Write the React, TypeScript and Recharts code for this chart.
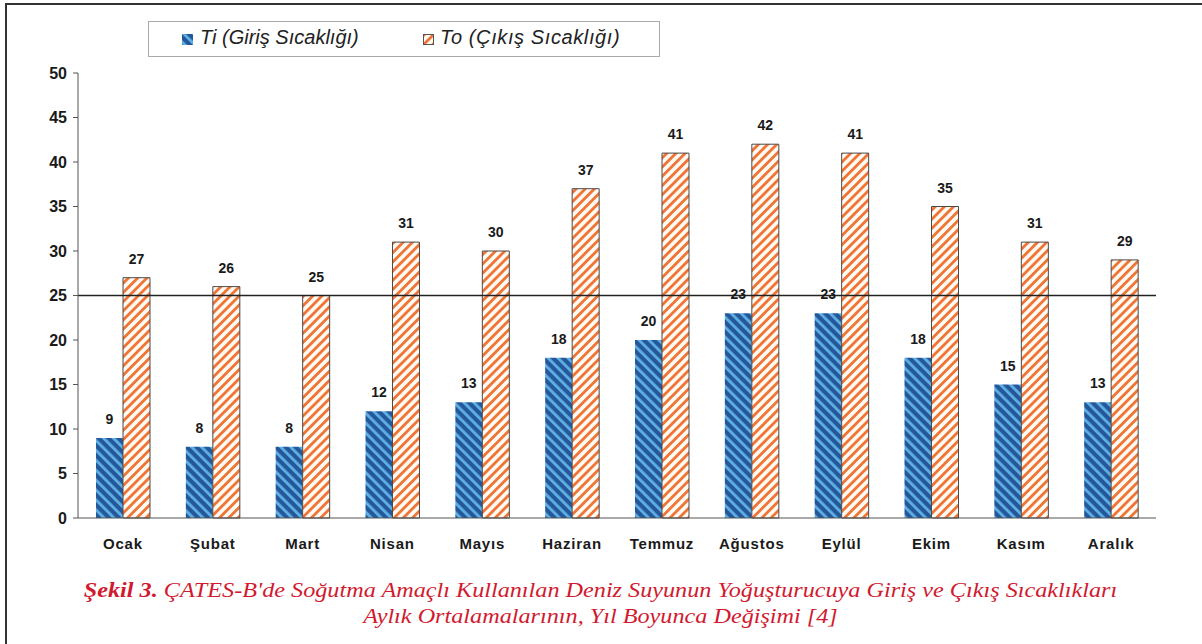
import React from 'react';
import {
    BarChart,
    Bar,
    XAxis,
    YAxis,
    ReferenceLine,
    LabelList
} from "recharts"

const months = ["Ocak", "Şubat", "Mart", "Nisan", "Mayıs", "Haziran", "Temmuz", "Ağustos", "Eylül", "Ekim", "Kasım", "Aralık"];
const tiValues = [9, 8, 8, 12, 13, 18, 20, 23, 23, 18, 15, 13];
const toValues = [27, 26, 25, 31, 30, 37, 41, 42, 41, 35, 31, 29];
const yTicks = [0, 5, 10, 15, 20, 25, 30, 35, 40, 45, 50];
const tiName = "Ti (Giriş Sıcaklığı)";
const toName = "To (Çıkış Sıcaklığı)";

const data = months.map((month, i) => ({ month, ti: tiValues[i], to: toValues[i] }));

const FONT = "'Liberation Sans', Arial, sans-serif";
const labelStyle = { fontFamily: FONT, fontWeight: 700, fontSize: 14, fill: "#1a1a1a" };

const Patterns: React.FC = () => (
    <svg width={0} height={0} style={{ position: 'absolute' }}>
        <defs>
            <pattern id="blueHatch" patternUnits="userSpaceOnUse" width={7} height={7} patternTransform="rotate(-45)">
                <rect width={7} height={7} fill="#24589a" />
                <rect width={2.8} height={7} fill="#5fb0e4" />
            </pattern>
            <pattern id="orangeHatch" patternUnits="userSpaceOnUse" width={6.5} height={6.5} patternTransform="rotate(45)">
                <rect width={6.5} height={6.5} fill="#fffaf2" />
                <rect width={2.8} height={6.5} fill="#ef7436" />
            </pattern>
        </defs>
    </svg>
);

const LegendBox: React.FC = () => (
    <div style={{
        position: 'absolute', left: 148, top: 21, width: 510, height: 34,
        border: '1px solid #aaa', background: '#fff', fontFamily: FONT,
        fontStyle: 'italic', fontSize: 20, color: '#222'
    }}>
        <svg width={11} height={11} style={{ position: 'absolute', left: 33, top: 12 }}>
            <rect width={11} height={11} fill="url(#blueHatch)" />
        </svg>
        <span style={{ position: 'absolute', left: 51, top: 4 }}>{tiName}</span>
        <svg width={11} height={11} style={{ position: 'absolute', left: 274, top: 12 }}>
            <rect x={0.5} y={0.5} width={10} height={10} fill="url(#orangeHatch)" stroke="#555" />
        </svg>
        <span style={{ position: 'absolute', left: 291, top: 4, letterSpacing: 0.6 }}>{toName}</span>
    </div>
);

const App: React.FC = () => {
    return (
        <div style={{ position: 'absolute', left: 0, top: 0, width: 1202, height: 644, background: '#fff', overflow: 'hidden' }}>
            <Patterns />
            <div style={{ position: 'absolute', left: 5, top: 3, width: 1300, height: 700, borderLeft: '2px solid #333', borderTop: '2px solid #333' }} />
            <BarChart
                width={1202}
                height={644}
                data={data}
                margin={{ top: 73, right: 46, bottom: 96, left: 0 }}
                barGap={0}
                barSize={27}
            >
                <XAxis dataKey="month" height={30} tickLine={false} stroke="#555" tickMargin={14}
                    tick={{ fontFamily: FONT, fontWeight: 700, fontSize: 15, fill: "#1a1a1a", letterSpacing: 0.8 }} />
                <XAxis xAxisId="top" dataKey="month" orientation="top" height={0} tick={false} tickLine={false} stroke="#777" />
                <YAxis width={78} domain={[0, 50]} ticks={yTicks} interval={0} tickSize={5} tickMargin={6} stroke="#555"
                    tick={{ fontFamily: FONT, fontWeight: 700, fontSize: 16, fill: "#1a1a1a" }} />
                <YAxis yAxisId="right" orientation="right" width={0} domain={[0, 50]} tick={false} tickLine={false} stroke="#777" />
                <ReferenceLine y={25} stroke="#222" strokeWidth={1.5} />
                <Bar dataKey="ti" name={tiName} fill="url(#blueHatch)" isAnimationActive={false}>
                    <LabelList dataKey="ti" position="top" offset={14} style={labelStyle} />
                </Bar>
                <Bar dataKey="to" name={toName} fill="url(#orangeHatch)" stroke="#4a4a4a" strokeWidth={1} isAnimationActive={false}>
                    <LabelList dataKey="to" position="top" offset={14} style={labelStyle} />
                </Bar>
            </BarChart>
            <LegendBox />
            <div style={{
                position: 'absolute', left: 0, top: 577, width: 1202, textAlign: 'center',
                fontFamily: "'Liberation Serif', 'Times New Roman', serif", fontStyle: 'italic',
                fontSize: 22, lineHeight: '26px', color: '#d11a2f',
                transform: 'scaleX(1.1)', transformOrigin: '606px 0'
            }}>
                <div><b>Şekil 3.</b> ÇATES-B'de Soğutma Amaçlı Kullanılan Deniz Suyunun Yoğuşturucuya Giriş ve Çıkış Sıcaklıkları</div>
                <div>Aylık Ortalamalarının, Yıl Boyunca Değişimi [4]</div>
            </div>
        </div>
    );
}

export default App;
